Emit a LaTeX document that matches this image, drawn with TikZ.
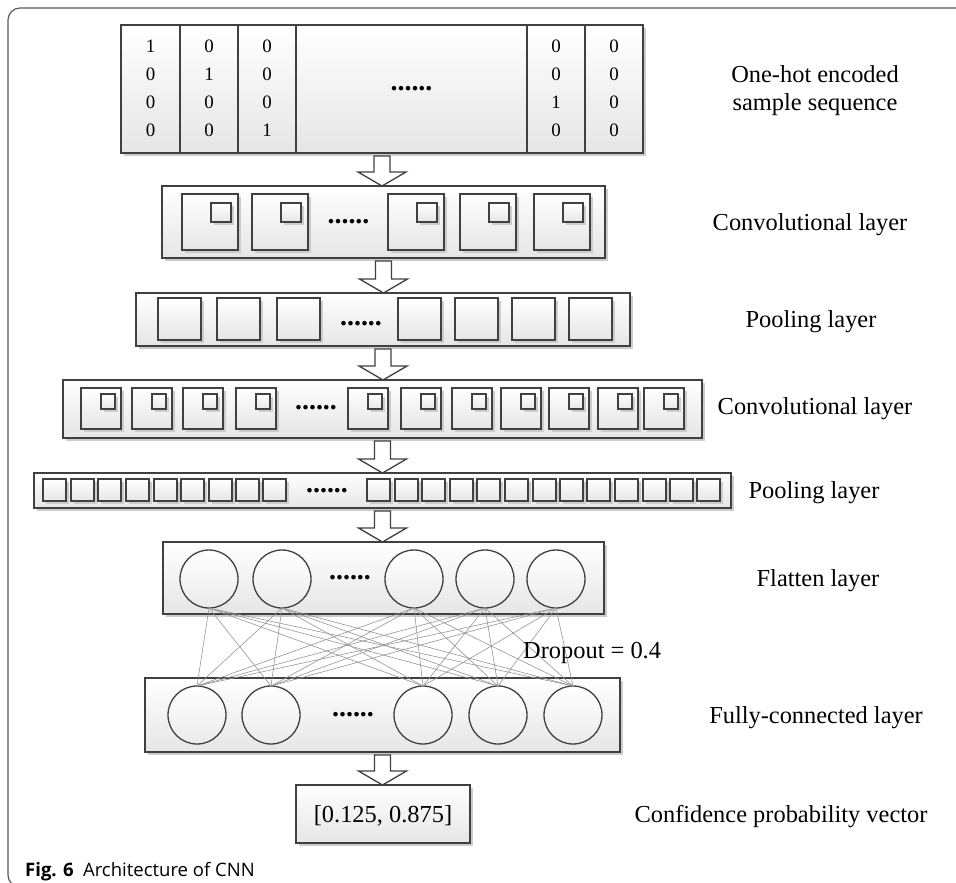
\documentclass[tikz,border=0pt]{standalone}
\usepackage{fontspec}
\setmainfont{Liberation Serif}
\newfontfamily\capfont{Open Sans}
\usetikzlibrary{calc,shadows}
\definecolor{lc}{HTML}{404040}
\definecolor{framec}{HTML}{5A5A5A}
\definecolor{connc}{HTML}{959595}
\begin{document}
\begin{tikzpicture}[x=1bp,y=-1bp,
  lay/.style={rectangle, draw=lc, line width=1.3bp, top color=white, bottom color=black!10,
    inner sep=0pt, outer sep=0pt, anchor=north west,
    drop shadow={shadow xshift=2.5bp, shadow yshift=-2.5bp, fill=black!20, opacity=1}},
  ring/.style={circle, draw=lc, line width=1.3bp, top color=white, bottom color=black!8,
    inner sep=0pt, outer sep=0pt, minimum size=58bp},
  ghost/.style={rectangle, inner sep=0pt, outer sep=0pt, anchor=north west},
  lbl/.style={font=\fontsize{24.5}{28}\selectfont, inner sep=0pt, align=center, anchor=base},
  dig/.style={font=\fontsize{19}{22}\selectfont, inner sep=0pt},
  dotsty/.style={font=\fontsize{28}{30}\selectfont\bfseries, inner sep=0pt, anchor=base},
  conn/.style={draw=connc, line width=0.6bp},
  blk/.style={draw=lc, line width=1.3bp, fill=white, line join=miter}
]
\useasboundingbox (0,0) rectangle (956,883);
\newcommand{\blkarrow}[2]{%
  \draw[blk] let \p1=(#1.south), \p2=(#2.north) in
    (\x1-8pt,\y1-3pt) -- (\x1-8pt,\y2+14pt) -- (\x1-24pt,\y2+14pt) -- (\x1,\y2)
    -- (\x1+24pt,\y2+14pt) -- (\x1+8pt,\y2+14pt) -- (\x1+8pt,\y1-3pt) -- cycle;}

% frame
\draw[framec, line width=1.2bp, rounded corners=12bp] (40,887) -- (8,887) -- (8,8) -- (975,8);

% input matrix
\node[lay, minimum width=59bp, minimum height=128bp] (m1) at (121,25) {};
\node[lay, minimum width=58bp, minimum height=128bp] (m2) at (180,25) {};
\node[lay, minimum width=58bp, minimum height=128bp] (m3) at (238,25) {};
\node[lay, minimum width=231bp, minimum height=128bp] (m4) at (296,25) {};
\node[lay, minimum width=58bp, minimum height=128bp] (m5) at (527,25) {};
\node[lay, minimum width=58bp, minimum height=128bp] (m6) at (585,25) {};
\node[ghost, minimum width=522bp, minimum height=128bp] (mat) at (121,25) {};
\foreach \cx/\a/\b/\c/\d [count=\k] in {150.5/1/0/0/0, 209/0/1/0/0, 267/0/0/0/1, 556/0/0/1/0, 614/0/0/0/0}{
  \node[dig] (d\k a) at (\cx,46) {\a};
  \node[dig] (d\k b) at (\cx,74) {\b};
  \node[dig] (d\k c) at (\cx,102) {\c};
  \node[dig] (d\k d) at (\cx,130) {\d};
}
\node[dotsty] (mdots) at (411.5,90) {......};
\node[lbl] (l0) at (815,82) {One-hot encoded};
\node[lbl] (l0b) at (815,110) {sample sequence};

% conv layer 1
\node[lay, minimum width=443bp, minimum height=72bp] (conv1) at (162,186) {};
\foreach \x [count=\i] in {182,252,388,460,534}{
  \node[lay, minimum width=56bp, minimum height=56bp] (ca\i) at (\x,194) {};
  \node[lay, line width=1.1bp, minimum width=20bp, minimum height=19bp] (cas\i) at (\x+29,203) {};
}
\node[dotsty] (c1dots) at (348.5,223) {......};
\node[lbl] (l1) at (810,230) {Convolutional layer};

% pooling layer 1
\node[lay, minimum width=494bp, minimum height=53bp] (pool1) at (136,293) {};
\foreach \x [count=\i] in {158,217,277,398,455,512,569}{
  \node[lay, minimum width=43bp, minimum height=42bp] (pa\i) at (\x,298) {};
}
\node[dotsty] (p1dots) at (361,325) {......};
\node[lbl] (l2) at (811,327) {Pooling layer};

% conv layer 2
\node[lay, minimum width=639bp, minimum height=58bp] (conv2) at (63,380) {};
\foreach \x [count=\i] in {81,132,183,236,348,401,452,501,549,598,644}{
  \node[lay, minimum width=40bp, minimum height=41bp] (cb\i) at (\x,388) {};
  \node[lay, line width=1.1bp, minimum width=14bp, minimum height=15bp] (cbs\i) at (\x+20,394) {};
}
\node[dotsty] (c2dots) at (316,409) {......};
\node[lbl] (l3) at (815,414) {Convolutional layer};

% pooling layer 2
\node[lay, minimum width=697bp, minimum height=35bp] (pool2) at (34,473) {};
\foreach \x [count=\i] in {43,71,98,126,154,181,209,236,263,367,395,422,450,477,505,533,560,587,615,643,670,697}{
  \node[lay, line width=1.1bp, minimum width=23bp, minimum height=22bp] (pb\i) at (\x,479) {};
}
\node[dotsty] (p2dots) at (327,492) {......};
\node[lbl] (l4) at (814,498) {Pooling layer};

% flatten layer
\node[lay, minimum width=441bp, minimum height=72bp] (flat) at (163,542) {};
\foreach \x [count=\i] in {209,282,414,485,556}{
  \node[ring] (f\i) at (\x,579) {};
}
\node[dotsty] (fdots) at (350,579) {......};
\node[lbl] (l5) at (818,586) {Flatten layer};

% fully-connected layer
\node[lay, minimum width=475bp, minimum height=74bp] (fc) at (145,678) {};
\foreach \x [count=\i] in {197,271,423,498,573}{
  \node[ring] (h\i) at (\x,715) {};
}
\node[dotsty] (hdots) at (353,716) {......};
\node[lbl] (l6) at (816,723) {Fully-connected layer};

% connections
\foreach \i in {1,...,5}{
  \foreach \j in {1,...,5}{
    \draw[conn] (f\i.south) -- (h\j.north);
  }
}
\node[lbl, anchor=base west] (drop) at (523,658) {Dropout = 0.4};

% output
\node[lay, minimum width=174bp, minimum height=58bp] (out) at (296,785) {};
\node[lbl] (outtxt) at (383,822) {[0.125, 0.875]};
\node[lbl] (l7) at (781,822) {Confidence probability vector};

% block arrows
\blkarrow{mat}{conv1}
\blkarrow{conv1}{pool1}
\blkarrow{pool1}{conv2}
\blkarrow{conv2}{pool2}
\blkarrow{pool2}{flat}
\blkarrow{fc}{out}

% caption
\node[anchor=base west, inner sep=0pt, font=\capfont\fontsize{18.6}{20}\selectfont] (cap) at (25,876)
  {\textbf{Fig. 6}\hspace{0.5em}Architecture of CNN};
\end{tikzpicture}
\end{document}
